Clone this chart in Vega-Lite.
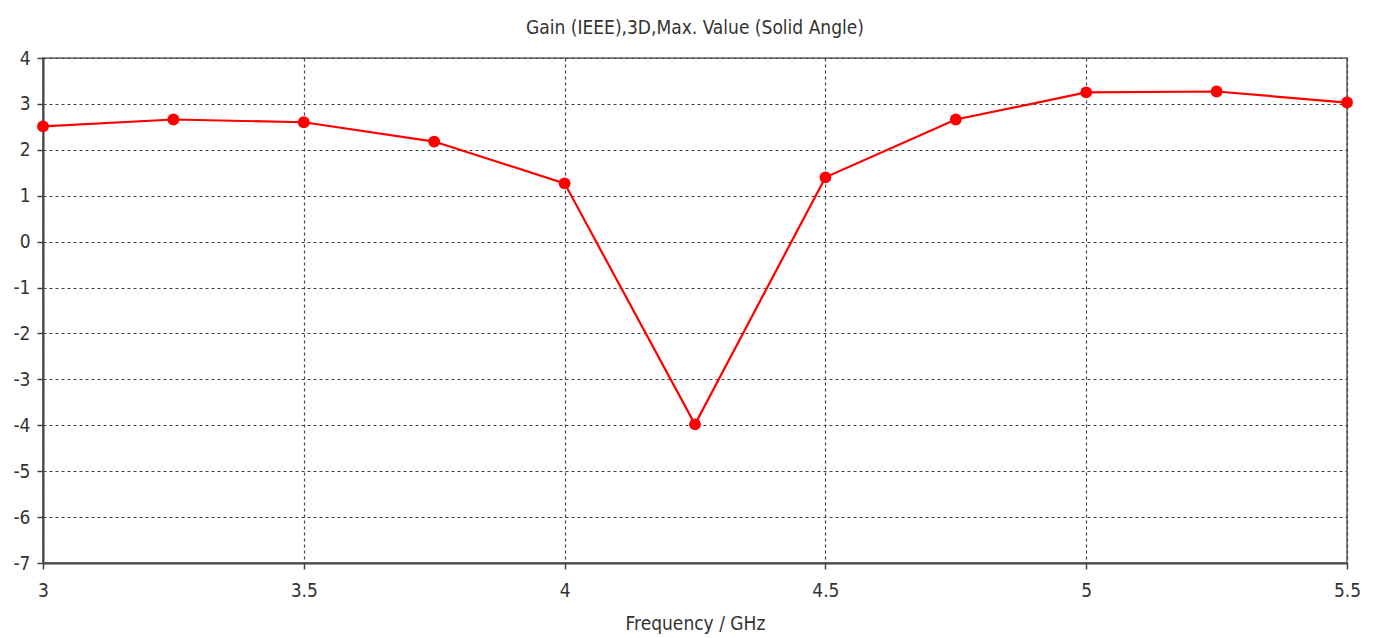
{
  "$schema": "https://vega.github.io/schema/vega-lite/v6.json",
  "width": 1304,
  "height": 505,
  "autosize": {"type": "none"},
  "padding": {"left": 43, "top": 58, "right": 28, "bottom": 75},
  "background": "white",
  "title": {
    "text": "Gain (IEEE),3D,Max. Value (Solid Angle)",
    "font": "DejaVu Sans Condensed",
    "fontSize": 19,
    "fontWeight": "normal",
    "color": "#333333",
    "anchor": "middle",
    "offset": 11
  },
  "config": {
    "view": {"stroke": "#888888", "strokeWidth": 2},
    "axis": {
      "labelFont": "DejaVu Sans Condensed",
      "titleFont": "DejaVu Sans Condensed",
      "labelFontSize": 19,
      "titleFontSize": 19,
      "labelColor": "#333333",
      "titleColor": "#333333",
      "titleFontWeight": "normal",
      "domainColor": "#444444",
      "domainWidth": 2,
      "tickColor": "#444444",
      "tickWidth": 1.5,
      "gridColor": "#444444",
      "gridDash": [3, 3],
      "gridWidth": 1.2,
      "gridOpacity": 1
    }
  },
  "data": {
    "values": [
      {"f": 3.0, "g": 2.51},
      {"f": 3.25, "g": 2.66},
      {"f": 3.5, "g": 2.60},
      {"f": 3.75, "g": 2.18},
      {"f": 4.0, "g": 1.27},
      {"f": 4.25, "g": -3.98},
      {"f": 4.5, "g": 1.40},
      {"f": 4.75, "g": 2.66},
      {"f": 5.0, "g": 3.25},
      {"f": 5.25, "g": 3.27},
      {"f": 5.5, "g": 3.03}
    ]
  },
  "encoding": {
    "x": {
      "field": "f",
      "type": "quantitative",
      "scale": {"domain": [3, 5.5], "nice": false, "zero": false},
      "axis": {
        "values": [3, 3.5, 4, 4.5, 5, 5.5],
        "format": "~g",
        "title": "Frequency / GHz",
        "tickSize": 6,
        "labelPadding": 12,
        "titlePadding": 14,
        "labelFlush": false
      }
    },
    "y": {
      "field": "g",
      "type": "quantitative",
      "scale": {"domain": [-7, 4], "nice": false, "zero": false},
      "axis": {
        "values": [-7, -6, -5, -4, -3, -2, -1, 0, 1, 2, 3, 4],
        "labelExpr": "replace(datum.label, '−', '-')",
        "title": null,
        "tickSize": 6,
        "labelPadding": 7,
        "labelFlush": false
      }
    }
  },
  "layer": [
    {"mark": {"type": "line", "color": "#ff0000", "strokeWidth": 2.2}},
    {"mark": {"type": "point", "filled": true, "color": "#ff0000", "size": 140, "opacity": 1}}
  ]
}
